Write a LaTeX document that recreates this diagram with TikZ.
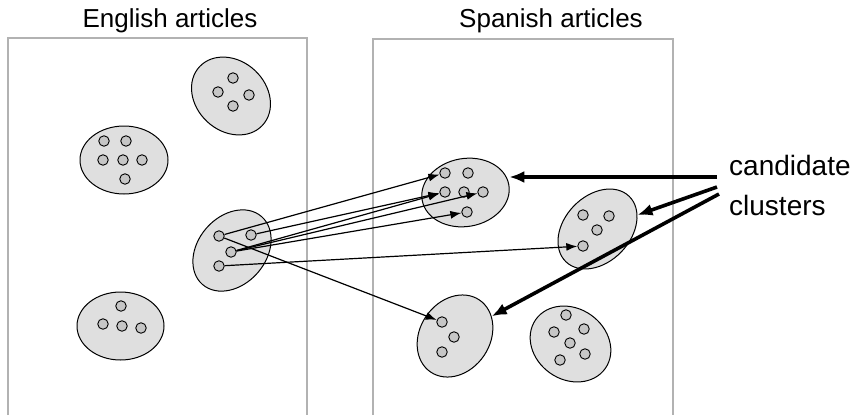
\documentclass[tikz,border=0pt]{standalone}
\usepackage{fontspec}
\setmainfont{Liberation Sans}
\usetikzlibrary{arrows.meta,shapes.geometric}

\begin{document}
\begin{tikzpicture}[x=1pt, y=-1pt,
	cluster/.style={ellipse, draw, fill=gray!25, line width=1pt, inner sep=0pt},
	doc/.style={circle, draw, fill=gray!45, line width=0.9pt, minimum size=10.5pt, inner sep=0pt},
	link/.style={-{Latex[length=11pt,width=8pt]}, line width=1.2pt},
	pointer/.style={-{Latex[length=15pt,width=12pt]}, line width=3.6pt},
	frame/.style={draw=gray!60, line width=1.2pt},
	title/.style={font=\fontsize{26}{30}\selectfont, anchor=base}]
		\useasboundingbox (0,0) rectangle (858,415);
		\draw[frame] (8,415) -- (8,38) -- (307,38) -- (307,415);
		\draw[frame] (373,415) -- (373,39) -- (673,39) -- (673,415);
		\node[title] (en) at (170,27) {English articles};
		\node[title] (es) at (551,27) {Spanish articles};
		\node[cluster, rotate=-43, minimum width=86pt, minimum height=70pt] (c1) at (231,96) {};
		\node[cluster, minimum width=88pt, minimum height=68pt] (c2) at (124,160) {};
		\node[cluster, minimum width=87pt, minimum height=68pt] (c3) at (120.5,326) {};
		\node[cluster, rotate=49, minimum width=90pt, minimum height=68pt] (src) at (232,250.5) {};
		\node[cluster, rotate=10, minimum width=88pt, minimum height=68pt] (c5) at (465.5,192.5) {};
		\node[cluster, rotate=46, minimum width=91pt, minimum height=66pt] (c6) at (597.5,229) {};
		\node[cluster, rotate=56, minimum width=87pt, minimum height=70pt] (c7) at (455,336) {};
		\node[cluster, rotate=-35, minimum width=85pt, minimum height=71pt] (c8) at (570.5,344) {};
		\node[doc] (c1a) at (233,78) {};
		\node[doc] (c1b) at (218,92) {};
		\node[doc] (c1c) at (249,95) {};
		\node[doc] (c1d) at (233,106) {};
		\node[doc] (c2a) at (104,141) {};
		\node[doc] (c2b) at (126,141) {};
		\node[doc] (c2c) at (103,160) {};
		\node[doc] (c2d) at (123,160) {};
		\node[doc] (c2e) at (142,160) {};
		\node[doc] (c2f) at (125,179) {};
		\node[doc] (c3a) at (121,306) {};
		\node[doc] (c3b) at (103,324) {};
		\node[doc] (c3c) at (122,326) {};
		\node[doc] (c3d) at (141,328) {};
		\node[doc] (s1) at (219,236) {};
		\node[doc] (s2) at (251,235) {};
		\node[doc] (s3) at (231,252) {};
		\node[doc] (s4) at (219,266) {};
		\node[doc] (c5a) at (445,173) {};
		\node[doc] (c5b) at (468,173) {};
		\node[doc] (c5c) at (445,192) {};
		\node[doc] (c5d) at (464,192) {};
		\node[doc] (c5e) at (483,192) {};
		\node[doc] (c5f) at (467,212) {};
		\node[doc] (c6a) at (583,215) {};
		\node[doc] (c6b) at (609,216) {};
		\node[doc] (c6c) at (597,230) {};
		\node[doc] (c6d) at (583,246) {};
		\node[doc] (c7a) at (442,322) {};
		\node[doc] (c7b) at (454,337) {};
		\node[doc] (c7c) at (442,352) {};
		\node[doc] (c8a) at (566,315) {};
		\node[doc] (c8b) at (554,332) {};
		\node[doc] (c8c) at (584,329) {};
		\node[doc] (c8d) at (570,343) {};
		\node[doc] (c8e) at (585,354) {};
		\node[doc] (c8f) at (560,360) {};
		\draw[link] (s1) -- (c5a);
		\draw[link] (s2) -- (c5c);
		\draw[link] (s3) -- (c5c);
		\draw[link] (s3) -- (c5e);
		\draw[link] (s3) -- (c5f);
		\draw[link] (s4) -- (c6d);
		\draw[link] (s1) -- (c7a);
		\node[font=\fontsize{28}{40}\selectfont, align=left, inner sep=0pt, anchor=base west] (cand) at (729,215) {candidate\\clusters};
		\coordinate (k1) at (717,177);
		\coordinate (k2) at (717,187);
		\coordinate (k3) at (719,194);
		\draw[pointer] (k1) -- (c5.east |- k1);
		\draw[pointer] (k2) -- (c6);
		\draw[pointer] (k3) -- (c7);
	\end{tikzpicture}
\end{document}
